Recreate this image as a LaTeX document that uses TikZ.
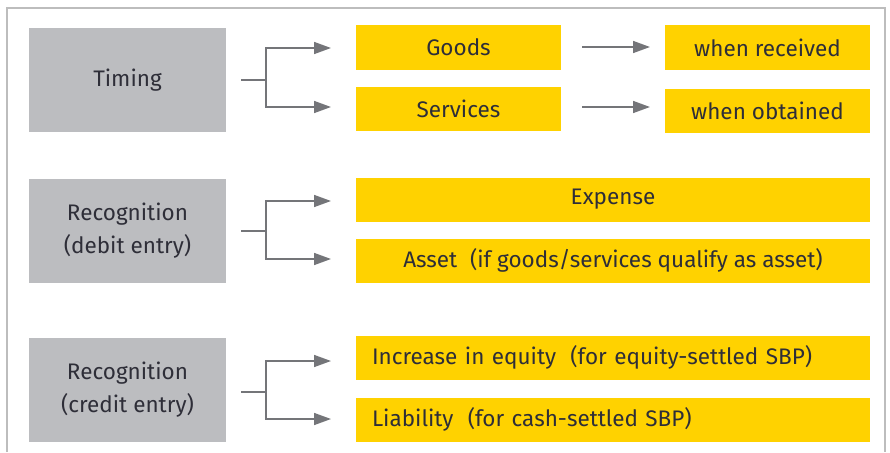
\documentclass[tikz,border=0pt]{standalone}
\usepackage{fontspec}
\setmainfont{Fira Sans}
\usetikzlibrary{arrows.meta}
\definecolor{boxgrey}{HTML}{BCBDC0}
\definecolor{eyyellow}{HTML}{FFD200}
\definecolor{arrowgrey}{HTML}{747579}
\definecolor{framegrey}{HTML}{BDBDBD}
\definecolor{txt}{HTML}{2E2E38}
\tikzset{
  greybox/.style={fill=boxgrey, draw=none, minimum width=197pt, minimum height=104pt, inner sep=0pt, align=center, text=txt, font=\fontsize{22.5}{33}\selectfont},
  yelbox/.style={fill=eyyellow, draw=none, minimum height=44pt, inner sep=0pt, align=center, text=txt, font=\fontsize{22.5}{26}\selectfont},
  leftbox/.style={yelbox, text width=482pt, inner xsep=16pt, align=left},
  conn/.style={draw=arrowgrey, line width=1.6pt, -{Triangle[length=17pt,width=12pt]}},
  stub/.style={draw=arrowgrey, line width=1.6pt}
}
\begin{document}
\begin{tikzpicture}[x=1pt,y=-1pt]
\useasboundingbox (0,0) rectangle (890,452);
\draw[framegrey, line width=1.3pt] (7,452) -- (7,8) -- (885,8) -- (885,452);

% section 1
\node[greybox] (timing) at (127.5,80) {Timing};
\node[yelbox, minimum width=205pt] (goods) at (458.5,47.5) {Goods};
\node[yelbox, minimum width=205pt] (services) at (458.5,109) {Services};
\node[yelbox, minimum width=205pt] (received) at (767.5,47.5) {when received};
\node[yelbox, minimum width=205pt] (obtained) at (767.5,110.5) {when obtained};
\coordinate (s1) at (241,80);
\coordinate (b1) at (266,80);
\coordinate (a1) at (331,48);
\coordinate (a2) at (331,107);
\draw[stub] (s1) -- (b1);
\draw[conn] (b1) |- (a1);
\draw[conn] (b1) |- (a2);
\coordinate (g1) at (582,47);
\coordinate (g2) at (650,47);
\coordinate (h1) at (582,107);
\coordinate (h2) at (650,107);
\draw[conn] (g1) -- (g2);
\draw[conn] (h1) -- (h2);

% section 2
\node[greybox] (debit) at (127.5,231) {Recognition\\(debit entry)};
\node[yelbox, minimum width=514pt] (expense) at (613,199.5) {Expense};
\node[yelbox, minimum width=514pt] (asset) at (613,260.5) {Asset\hspace{0.3em} (if goods/services qualify as asset)};
\coordinate (s2) at (241,231);
\coordinate (b2) at (266,231);
\coordinate (a3) at (331,201);
\coordinate (a4) at (331,259);
\draw[stub] (s2) -- (b2);
\draw[conn] (b2) |- (a3);
\draw[conn] (b2) |- (a4);

% section 3
\node[greybox] (credit) at (127.5,390) {Recognition\\(credit entry)};
\node[leftbox] (equity) at (613,357.5) {Increase in equity\hspace{0.3em} (for equity-settled SBP)};
\node[leftbox] (liab) at (613,419.5) {Liability\hspace{0.3em} (for cash-settled SBP)};
\coordinate (s3) at (241,392);
\coordinate (b3) at (266,392);
\coordinate (a5) at (331,361);
\coordinate (a6) at (331,419);
\draw[stub] (s3) -- (b3);
\draw[conn] (b3) |- (a5);
\draw[conn] (b3) |- (a6);
\end{tikzpicture}
\end{document}
